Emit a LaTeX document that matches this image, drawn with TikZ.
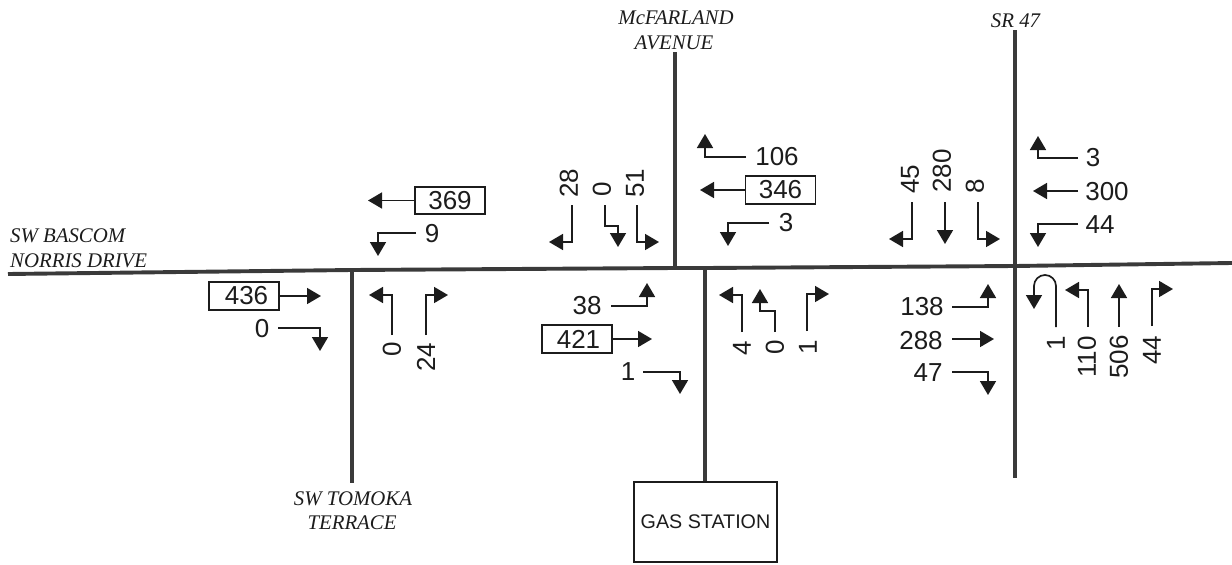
\documentclass[tikz,border=0pt]{standalone}
\usepackage{fontspec}
\setmainfont{Liberation Sans}
\newfontfamily\roadfont{Liberation Serif}
\usetikzlibrary{arrows.meta}
\definecolor{roadc}{HTML}{3A3A3A}
\definecolor{inkc}{HTML}{1C1C1C}
\tikzset{
  road/.style={draw=roadc,line width=3.9pt},
  mv/.style={draw=inkc,line width=1.7pt,-{Triangle[length=14pt,width=16pt]}},
  num/.style={text=inkc,inner sep=0pt,font=\fontsize{26}{26}\selectfont},
  rnum/.style={num,rotate=90},
  boxn/.style={draw=inkc,line width=1.8pt,minimum width=70pt,minimum height=27.5pt,inner sep=0pt},
  roadlbl/.style={text=inkc,inner sep=0pt,font=\roadfont\itshape\fontsize{20.8}{20.8}\selectfont},
  station/.style={draw=inkc,line width=1.8pt,minimum width=143pt,minimum height=80pt,inner sep=0pt,text=inkc,font=\fontsize{19.7}{19.7}\selectfont},
}
\newcommand\mvtwo[3]{\coordinate (#1a) at (#2); \coordinate (#1b) at (#3); \draw[mv] (#1a) -- (#1b);}
\newcommand\mvthree[4]{\coordinate (#1a) at (#2); \coordinate (#1b) at (#3); \coordinate (#1c) at (#4); \draw[mv] (#1a) -- (#1b) -- (#1c);}
\newcommand\mvfour[5]{\coordinate (#1a) at (#2); \coordinate (#1b) at (#3); \coordinate (#1c) at (#4); \coordinate (#1d) at (#5); \draw[mv] (#1a) -- (#1b) -- (#1c) -- (#1d);}
\begin{document}
\begin{tikzpicture}[x=1pt,y=-1pt]
\useasboundingbox (0,0) rectangle (1232,565);
% roads
\coordinate (mainW) at (8,274);
\coordinate (mainA) at (352,270);
\coordinate (mainB) at (675,268);
\coordinate (mainC) at (705,268);
\coordinate (mainD) at (1015,266);
\coordinate (mainE) at (1232,263);
\draw[road] (mainW) -- (mainA) -- (mainB) -- (mainC) -- (mainD) -- (mainE);
\coordinate (tomS) at (352,483);
\draw[road] (mainA) -- (tomS);
\coordinate (mcfN) at (675,52);
\draw[road] (mcfN) -- (mainB);
\coordinate (srN) at (1015,30);
\coordinate (srS) at (1015,478);
\draw[road] (srN) -- (srS);
\node[station] (gas) at (705.5,522) {GAS STATION};
\draw[road] (mainC) -- (gas.north -| mainC);
% road names
\node[roadlbl,anchor=base west] (n1) at (10,242) {SW BASCOM};
\node[roadlbl,anchor=base west] (n2) at (10,267) {NORRIS DRIVE};
\node[roadlbl,anchor=base] (n3) at (676,24) {McFARLAND};
\node[roadlbl,anchor=base] (n4) at (674,49) {AVENUE};
\node[roadlbl,anchor=base] (n5) at (1015.5,27) {SR 47};
\node[roadlbl,anchor=base] (n6) at (353,505) {SW TOMOKA};
\node[roadlbl,anchor=base] (n7) at (352,529) {TERRACE};
% boxes
\node[boxn,num] (b369) at (450,200.5) {369\hspace{6pt}};
\node[boxn,num] (b436) at (244,296) {\hspace{5pt}436};
\node[boxn,num] (b346) at (780.5,190) {346\hspace{7pt}};
\node[boxn,num] (b421) at (577,339) {\hspace{3pt}421};
% west intersection
\coordinate (t369) at (368,200.5);
\draw[mv] (b369.west) -- (t369);
\node[num] (l9) at (432,234) {9};
\mvthree{m9}{416,233}{378,233}{378,256}
\coordinate (t436) at (321,296);
\draw[mv] (b436.east) -- (t436);
\node[num] (l0a) at (262,329) {0};
\mvthree{m0a}{278,328}{320,328}{320,351}
\node[rnum] (l0b) at (392,349) {0};
\mvthree{m0b}{392,335}{392,295}{369,295}
\node[rnum] (l24) at (426,357) {24};
\mvthree{m24}{426,335}{426,295}{448,295}
% middle
\node[num] (l106) at (777,157) {106};
\mvthree{m106}{746,157}{705,157}{705,134}
\coordinate (t346) at (700,190);
\draw[mv] (b346.west) -- (t346);
\node[num] (l3a) at (786,223) {3};
\mvthree{m3a}{769,223}{728,223}{728,246}
\node[rnum] (l28) at (569,183) {28};
\mvthree{m28}{572,205}{572,242}{549,242}
\node[rnum] (l0c) at (602,189) {0};
\mvfour{m0c}{605,205}{605,226}{618,226}{618,247}
\node[rnum] (l51) at (635,183) {51};
\mvthree{m51}{637,205}{637,242}{659,242}
\node[num] (l38) at (587,306) {38};
\mvthree{m38}{611,306}{647,306}{647,283}
\coordinate (t421) at (652,339);
\draw[mv] (b421.east) -- (t421);
\node[num] (l1a) at (628,372) {1};
\mvthree{m1a}{643,372}{680,372}{680,394}
\node[rnum] (l4) at (742,348) {4};
\mvthree{m4}{742,332}{742,295}{719,295}
\node[rnum] (l0d) at (775,347) {0};
\mvfour{m0d}{775,332}{775,311}{760,311}{760,289}
\node[rnum] (l1b) at (808,347) {1};
\mvthree{m1b}{807,331}{807,294}{829,294}
% east
\node[num] (l3b) at (1093,158) {3};
\mvthree{m3b}{1078,158}{1038,158}{1038,136}
\node[num] (l300) at (1107,192) {300};
\mvtwo{m300}{1078,191}{1033,191}
\node[num] (l44a) at (1100,225) {44};
\mvthree{m44a}{1078,224}{1038,224}{1038,247}
\node[rnum] (l45) at (910,179) {45};
\mvthree{m45}{912,202}{912,239}{889,239}
\node[rnum] (l280) at (942,171) {280};
\mvtwo{m280}{945,202}{945,244}
\node[rnum] (l8) at (975,186) {8};
\mvthree{m8}{978,202}{978,239}{1000,239}
\node[num] (l138) at (922,307) {138};
\mvthree{m138}{952,307}{988,307}{988,284}
\node[num] (l288) at (921,341) {288};
\mvtwo{m288}{952,339}{994,339}
\node[num] (l47) at (928,373) {47};
\mvthree{m47}{952,372}{988,372}{988,395}
\node[rnum] (l1c) at (1056,343) {1};
\coordinate (mUa) at (1056,327);
\coordinate (mUb) at (1034,309);
\draw[mv] (mUa) -- (1056,286) arc[start angle=0,end angle=-180,radius=11] -- (mUb);
\node[rnum] (l110) at (1087,357) {110};
\mvthree{m110}{1088,327}{1088,290}{1065,290}
\node[rnum] (l506) at (1119,357) {506};
\mvtwo{m506}{1119,327}{1119,284}
\node[rnum] (l44b) at (1152,350) {44};
\mvthree{m44b}{1152,326}{1152,289}{1173,289}
\end{tikzpicture}
\end{document}
